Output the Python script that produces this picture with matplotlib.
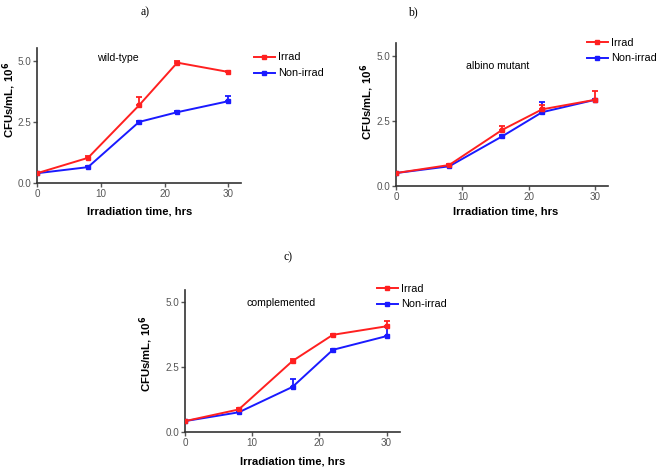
import matplotlib
matplotlib.use("Agg")
import matplotlib.pyplot as plt

plt.rcParams['font.family'] = ['Liberation Sans', 'DejaVu Sans']

time = [0, 8, 16, 22, 30]

# panel a: wild-type
a_irrad = [0.40, 1.03, 3.18, 4.93, 4.55]
a_irrad_err = [0.02, 0.06, 0.36, 0.06, 0.05]
a_non = [0.40, 0.65, 2.50, 2.90, 3.35]
a_non_err = [0.02, 0.03, 0.04, 0.03, 0.22]

# panel b: albino mutant
b_irrad = [0.50, 0.81, 2.17, 2.96, 3.33]
b_irrad_err = [0.02, 0.04, 0.15, 0.17, 0.33]
b_non = [0.50, 0.76, 1.92, 2.85, 3.33]
b_non_err = [0.02, 0.03, 0.04, 0.38, 0.03]

# panel c: complemented
c_irrad = [0.42, 0.87, 2.74, 3.75, 4.08]
c_irrad_err = [0.02, 0.05, 0.08, 0.04, 0.22]
c_non = [0.42, 0.76, 1.74, 3.17, 3.70]
c_non_err = [0.02, 0.03, 0.31, 0.04, 0.34]

labels = ['Irrad', 'Non-irrad']
panel_titles = ['a)', 'b)', 'c)']
panel_names = ['wild-type', 'albino mutant', 'complemented']
yticks = [0.0, 2.5, 5.0]
xticks = [0, 10, 20, 30]

RED = '#ff2020'
BLUE = '#1a1aff'

fig = plt.figure(figsize=(6.61, 4.69), dpi=100)

W, H = 661, 469
# axes rectangles in pixels: left, right, top, bottom ; xmax, ymax
rects = [
    (37, 241, 48, 183, 32.0, 5.53),
    (396, 608, 43, 186, 31.9, 5.52),
    (185, 400, 290, 432, 32.0, 5.48),
]
data = [
    (a_irrad, a_irrad_err, a_non, a_non_err),
    (b_irrad, b_irrad_err, b_non, b_non_err),
    (c_irrad, c_irrad_err, c_non, c_non_err),
]
title_pos = [(145, 12), (413, 12), (288, 257)]
name_pos = [(118, 58), (498, 66), (281, 303)]
legend_pos = [(254, 52.5), (587, 37.5), (377, 283.5)]
xlabel_pos = [(140, 211), (506, 212), (293, 461)]
ylabel_pos = [(9, 100), (367.5, 102), (146, 354)]

for i in range(3):
    l, r, t, b, xmax, ymax = rects[i]
    ax = fig.add_axes([l / W, 1 - b / H, (r - l) / W, (b - t) / H])
    irr, irr_e, non, non_e = data[i]
    ax.errorbar(time, irr, yerr=[[0] * 5, irr_e], color=RED, lw=1.4,
                marker='s', ms=2.6, capsize=2, elinewidth=1.3, capthick=1.3,
                label=labels[0], zorder=3)
    ax.errorbar(time, non, yerr=[[0] * 5, non_e], color=BLUE, lw=1.4,
                marker='s', ms=2.4, capsize=2, elinewidth=1.3, capthick=1.3,
                label=labels[1], zorder=2)
    ax.set_xlim(0, xmax)
    ax.set_ylim(0, ymax)
    ax.set_xticks(xticks)
    ax.set_yticks(yticks)
    ax.set_yticklabels(['%.1f' % v for v in yticks])
    for s in ['top', 'right']:
        ax.spines[s].set_visible(False)
    for s in ['left', 'bottom']:
        ax.spines[s].set_color('#333333')
        ax.spines[s].set_linewidth(1.2)
    ax.tick_params(length=3, width=1, color='#555555', labelcolor='#555555',
                   labelsize=7.1, pad=1.3)
    ax.set_ylabel('CFUs/mL, 10$^{\\mathbf{6}}$', fontsize=8.2, fontweight='bold')
    yx, yy = ylabel_pos[i]
    ax.yaxis.set_label_coords((yx - l) / (r - l), (b - yy) / (b - t))
    ax.yaxis.label.set_va('center')
    ax.set_xlabel('Irradiation time, hrs', fontsize=8.1, fontweight='bold')
    xx, xy = xlabel_pos[i]
    ax.xaxis.set_label_coords((xx - l) / (r - l), (b - xy) / (b - t))
    ax.xaxis.label.set_va('center')
    tx, ty = title_pos[i]
    fig.text(tx / W, 1 - ty / H, panel_titles[i], family='Liberation Serif',
             fontsize=8.5, ha='center', va='center')
    nx, ny = name_pos[i]
    fig.text(nx / W, 1 - ny / H, panel_names[i], fontsize=7.6,
             ha='center', va='center')
    lx, ly = legend_pos[i]
    h, lab = ax.get_legend_handles_labels()
    h = [hh[0] for hh in h]
    fig.legend(h, lab, loc='upper left', bbox_to_anchor=(lx / W, 1 - ly / H),
               bbox_transform=fig.transFigure, frameon=False, fontsize=7.8,
               borderpad=0, borderaxespad=0, handlelength=1.9,
               handletextpad=0.35, labelspacing=0.55)

fig.savefig('out.png', dpi=100)
